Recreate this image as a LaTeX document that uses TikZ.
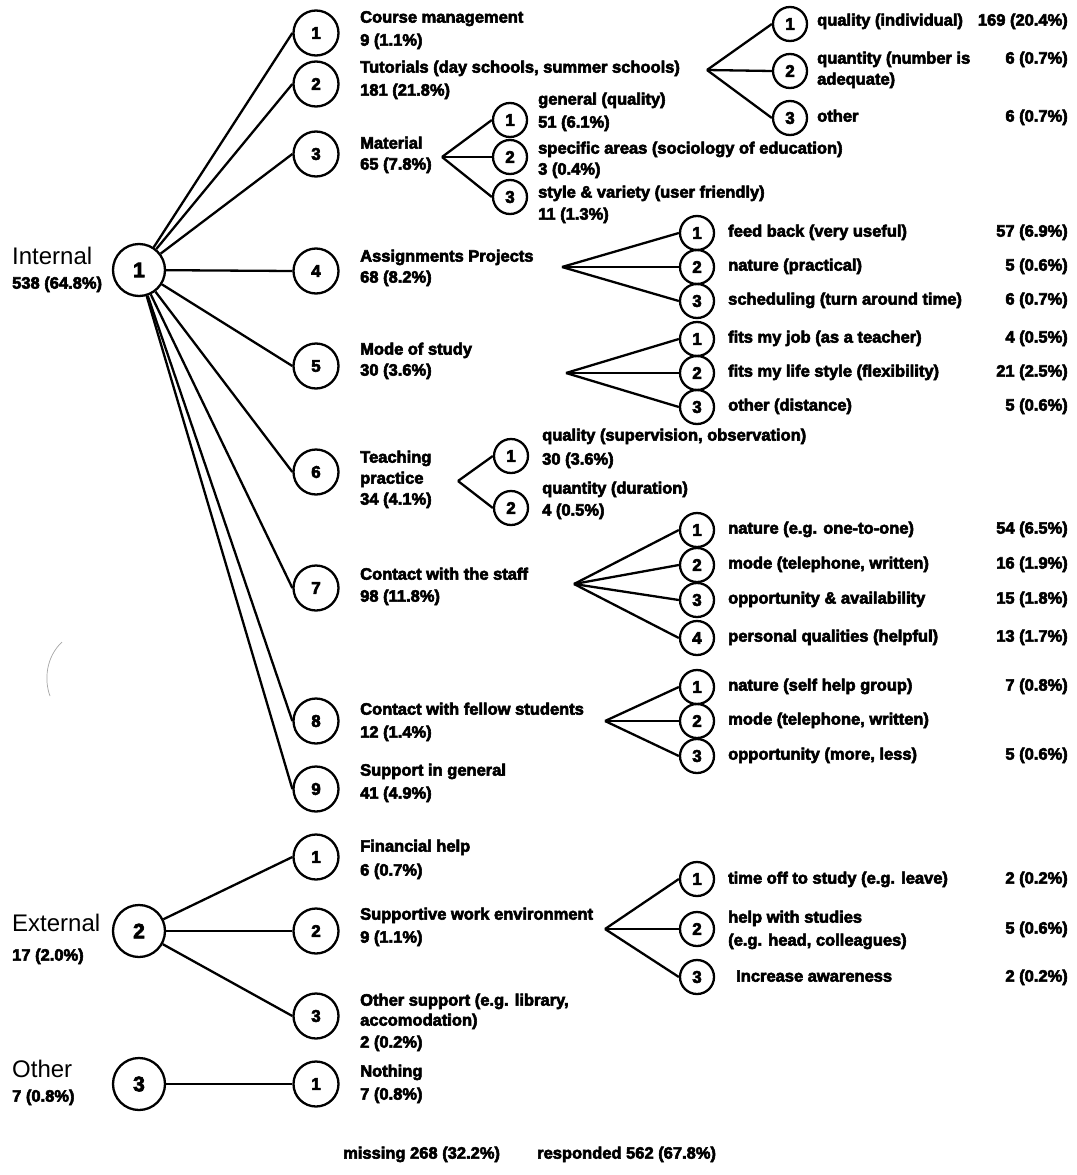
\documentclass[tikz,border=0pt]{standalone}
\usepackage{fontspec}
\setmainfont{Liberation Sans}
\newfontfamily\heavy{Liberation Sans Bold}[FakeBold=3.5]
\begin{document}
\begin{tikzpicture}[x=1pt,y=-1pt,
  edge/.style={line width=2.3pt},
  rootc/.style={circle,draw,line width=2.3pt,minimum size=52pt,inner sep=0pt,font=\fontsize{21}{24}\selectfont\heavy},
  onec/.style={circle,draw,line width=2.3pt,minimum size=45pt,inner sep=0pt,font=\fontsize{17}{20}\selectfont\heavy},
  twoc/.style={circle,draw,line width=2.3pt,minimum size=34pt,inner sep=0pt,font=\fontsize{17}{20}\selectfont\heavy},
  txt/.style={anchor=mid west,inner sep=0pt,font=\fontsize{16.5}{20}\selectfont\heavy},
  val/.style={anchor=mid east,inner sep=0pt,font=\fontsize{16.5}{20}\selectfont\heavy},
  cat/.style={anchor=mid west,inner sep=0pt,font=\fontsize{24}{28}\selectfont},
]
\useasboundingbox[fill=white] (0,0) rectangle (1076,1175);

% ---------- Internal ----------
\node[rootc] (int) at (139,270) {1};
\node[cat] (intT) at (12,262) {Internal};
\node[txt] (intN) at (12,286) {538 (64.8\%)};

\node[onec] (i1) at (316,33) {1};
\node[txt] (i1a) at (360,20) {Course management};
\node[txt] (i1b) at (360,43) {9 (1.1\%)};
\node[onec] (i2) at (316,84) {2};
\node[txt] (i2a) at (360,70) {Tutorials (day schools, summer schools)};
\node[txt] (i2b) at (360,93) {181 (21.8\%)};
\node[onec] (i3) at (316,154) {3};
\node[txt] (i3a) at (360,146) {Material};
\node[txt] (i3b) at (360,167) {65 (7.8\%)};
\node[onec] (i4) at (316,271) {4};
\node[txt] (i4a) at (360,259) {Assignments Projects};
\node[txt] (i4b) at (360,280) {68 (8.2\%)};
\node[onec] (i5) at (316,366) {5};
\node[txt] (i5a) at (360,352) {Mode of study};
\node[txt] (i5b) at (360,373) {30 (3.6\%)};
\node[onec] (i6) at (316,472) {6};
\node[txt] (i6a) at (360,460) {Teaching};
\node[txt] (i6b) at (360,481) {practice};
\node[txt] (i6c) at (360,502) {34 (4.1\%)};
\node[onec] (i7) at (316,588) {7};
\node[txt] (i7a) at (360,577) {Contact with the staff};
\node[txt] (i7b) at (360,599) {98 (11.8\%)};
\node[onec] (i8) at (316,721) {8};
\node[txt] (i8a) at (360,712) {Contact with fellow students};
\node[txt] (i8b) at (360,735) {12 (1.4\%)};
\node[onec] (i9) at (316,789) {9};
\node[txt] (i9a) at (360,773) {Support in general};
\node[txt] (i9b) at (360,796) {41 (4.9\%)};

\foreach \n in {i1,i2,i3,i4,i5,i6,i7,i8,i9}
  \draw[edge] (int) -- (\n.west);

% branch points
\coordinate (bTu) at (707,70);
\coordinate (bMa) at (442,157);
\coordinate (bAs) at (562,267);
\coordinate (bMo) at (566,373);
\coordinate (bTe) at (458,481);
\coordinate (bSt) at (574,584);
\coordinate (bFe) at (605,721);
\coordinate (bSu) at (605,929);

% Tutorials
\node[twoc] (tu1) at (790,24) {1};
\node[twoc] (tu2) at (790,71) {2};
\node[twoc] (tu3) at (790,118) {3};
\node[txt] (tu1a) at (817,23) {quality (individual)};
\node[val] (tu1n) at (1068,23) {169 (20.4\%)};
\node[txt] (tu2a) at (817,61) {quantity (number is};
\node[txt] (tu2b) at (817,82) {adequate)};
\node[val] (tu2n) at (1068,61) {6 (0.7\%)};
\node[txt] (tu3a) at (817,119) {other};
\node[val] (tu3n) at (1068,119) {6 (0.7\%)};

% Material
\node[twoc] (ma1) at (510,120) {1};
\node[twoc] (ma2) at (510,157) {2};
\node[twoc] (ma3) at (510,197) {3};
\node[txt] (ma1a) at (538,102) {general (quality)};
\node[txt] (ma1b) at (538,125) {51 (6.1\%)};
\node[txt] (ma2a) at (538,151) {specific areas (sociology of education)};
\node[txt] (ma2b) at (538,172) {3 (0.4\%)};
\node[txt] (ma3a) at (538,195) {style \& variety (user friendly)};
\node[txt] (ma3b) at (538,217) {11 (1.3\%)};

% Assignments
\node[twoc] (as1) at (697,233) {1};
\node[twoc] (as2) at (697,267) {2};
\node[twoc] (as3) at (697,301) {3};
\node[txt] (as1a) at (728,234) {feed back (very useful)};
\node[val] (as1n) at (1068,234) {57 (6.9\%)};
\node[txt] (as2a) at (728,268) {nature (practical)};
\node[val] (as2n) at (1068,268) {5 (0.6\%)};
\node[txt] (as3a) at (728,302) {scheduling (turn around time)};
\node[val] (as3n) at (1068,302) {6 (0.7\%)};

% Mode of study
\node[twoc] (mo1) at (697,339) {1};
\node[twoc] (mo2) at (697,373) {2};
\node[twoc] (mo3) at (697,407) {3};
\node[txt] (mo1a) at (728,340) {fits my job (as a teacher)};
\node[val] (mo1n) at (1068,340) {4 (0.5\%)};
\node[txt] (mo2a) at (728,374) {fits my life style (flexibility)};
\node[val] (mo2n) at (1068,374) {21 (2.5\%)};
\node[txt] (mo3a) at (728,408) {other (distance)};
\node[val] (mo3n) at (1068,408) {5 (0.6\%)};

% Teaching practice
\node[twoc] (te1) at (511,456) {1};
\node[twoc] (te2) at (511,508) {2};
\node[txt] (te1a) at (542,438) {quality (supervision, observation)};
\node[txt] (te1b) at (542,462) {30 (3.6\%)};
\node[txt] (te2a) at (542,491) {quantity (duration)};
\node[txt] (te2b) at (542,513) {4 (0.5\%)};

% Contact with the staff
\node[twoc] (st1) at (697,530) {1};
\node[twoc] (st2) at (697,565) {2};
\node[twoc] (st3) at (697,600) {3};
\node[twoc] (st4) at (697,638) {4};
\node[txt] (st1a) at (728,531) {nature (e.g. one-to-one)};
\node[val] (st1n) at (1068,531) {54 (6.5\%)};
\node[txt] (st2a) at (728,566) {mode (telephone, written)};
\node[val] (st2n) at (1068,566) {16 (1.9\%)};
\node[txt] (st3a) at (728,601) {opportunity \& availability};
\node[val] (st3n) at (1068,601) {15 (1.8\%)};
\node[txt] (st4a) at (728,639) {personal qualities (helpful)};
\node[val] (st4n) at (1068,639) {13 (1.7\%)};

% Contact with fellow students
\node[twoc] (fe1) at (697,687) {1};
\node[twoc] (fe2) at (697,721) {2};
\node[twoc] (fe3) at (697,756) {3};
\node[txt] (fe1a) at (728,688) {nature (self help group)};
\node[val] (fe1n) at (1068,688) {7 (0.8\%)};
\node[txt] (fe2a) at (728,722) {mode (telephone, written)};
\node[txt] (fe3a) at (728,757) {opportunity (more, less)};
\node[val] (fe3n) at (1068,757) {5 (0.6\%)};

% ---------- External ----------
\node[rootc] (ext) at (139,931) {2};
\node[cat] (extT) at (12,929) {External};
\node[txt] (extN) at (12,958) {17 (2.0\%)};

\node[onec] (e1) at (316,857) {1};
\node[txt] (e1a) at (360,849) {Financial help};
\node[txt] (e1b) at (360,873) {6 (0.7\%)};
\node[onec] (e2) at (316,931) {2};
\node[txt] (e2a) at (360,917) {Supportive work environment};
\node[txt] (e2b) at (360,940) {9 (1.1\%)};
\node[onec] (e3) at (316,1016) {3};
\node[txt] (e3a) at (360,1003) {Other support (e.g. library,};
\node[txt] (e3b) at (360,1023) {accomodation)};
\node[txt] (e3c) at (360,1045) {2 (0.2\%)};

\foreach \n in {e1,e2,e3}
  \draw[edge] (ext) -- (\n.west);

\node[twoc] (su1) at (697,879) {1};
\node[twoc] (su2) at (697,929) {2};
\node[twoc] (su3) at (697,977) {3};
\node[txt] (su1a) at (728,881) {time off to study (e.g. leave)};
\node[val] (su1n) at (1068,881) {2 (0.2\%)};
\node[txt] (su2a) at (728,920) {help with studies};
\node[txt] (su2b) at (728,943) {(e.g. head, colleagues)};
\node[val] (su2n) at (1068,931) {5 (0.6\%)};
\node[txt] (su3a) at (736,979) {Increase awareness};
\node[val] (su3n) at (1068,979) {2 (0.2\%)};

% ---------- Other ----------
\node[rootc] (oth) at (139,1084) {3};
\node[cat] (othT) at (12,1075) {Other};
\node[txt] (othN) at (12,1099) {7 (0.8\%)};
\node[onec] (o1) at (316,1084) {1};
\node[txt] (o1a) at (360,1074) {Nothing};
\node[txt] (o1b) at (360,1097) {7 (0.8\%)};
\draw[edge] (oth) -- (o1);

% sub-branches
\foreach \b/\list in {bTu/{tu1,tu2,tu3}, bMa/{ma1,ma2,ma3}, bAs/{as1,as2,as3},
                      bMo/{mo1,mo2,mo3}, bTe/{te1,te2}, bSt/{st1,st2,st3,st4},
                      bFe/{fe1,fe2,fe3}, bSu/{su1,su2,su3}}
  \foreach \n in \list
    \draw[edge] (\b) -- (\n.west);

% totals
\node[txt] (miss) at (343,1156) {missing 268 (32.2\%)};
\node[txt] (resp) at (537,1156) {responded 562 (67.8\%)};

% stray pen stroke at the left margin
\draw[gray!70,line width=0.7pt] (62,642) .. controls (46,657) and (44,680) .. (50,696);
\end{tikzpicture}
\end{document}
